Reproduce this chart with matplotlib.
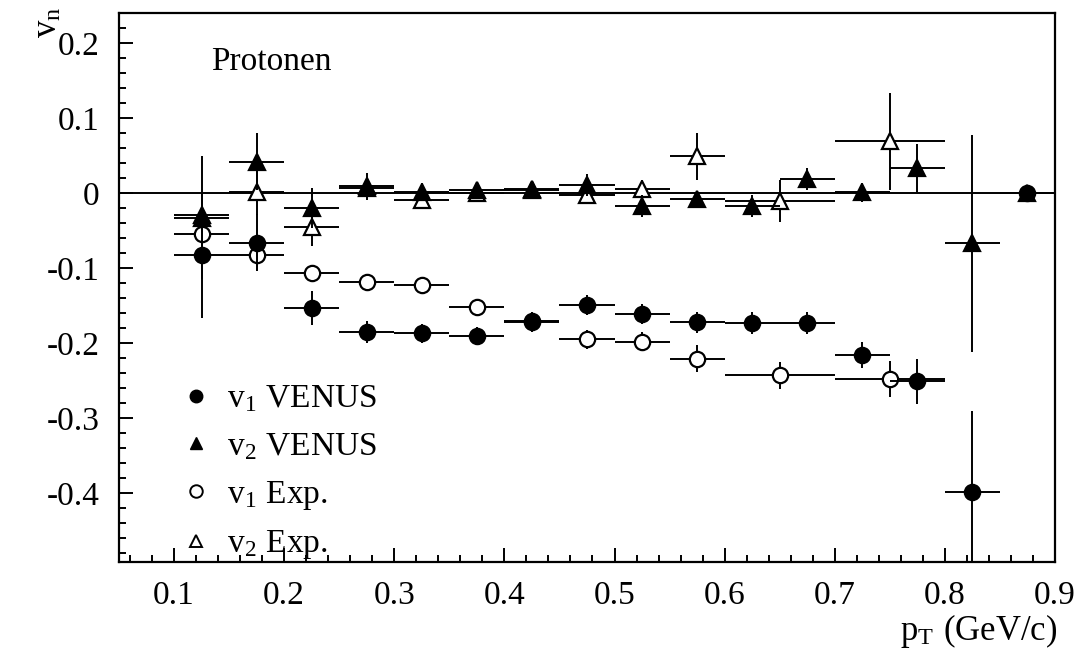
import matplotlib

matplotlib.use("Agg")

import matplotlib.pyplot as plt
from matplotlib.lines import Line2D
from matplotlib.ticker import MultipleLocator, FixedLocator, FixedFormatter

plt.rcParams['font.family'] = ['Liberation Serif', 'DejaVu Serif']
plt.rcParams['mathtext.fontset'] = 'stix'
plt.rcParams['axes.unicode_minus'] = False

# VENUS simulation bins (0.05 wide)
pt_venus = [0.125, 0.175, 0.225, 0.275, 0.325, 0.375, 0.425, 0.475,
            0.525, 0.575, 0.625, 0.675, 0.725, 0.775, 0.825, 0.875]
v1_venus = [-0.083, -0.066, -0.153, -0.185, -0.187, -0.191, -0.172, -0.149,
            -0.161, -0.172, -0.173, -0.173, -0.216, -0.251, -0.398, 0.0]
v1_venus_err = [0.083, 0.038, 0.023, 0.015, 0.013, 0.012, 0.013, 0.013,
                0.013, 0.014, 0.015, 0.015, 0.017, 0.030, 0.108, 0.004]
v2_venus = [-0.033, 0.042, -0.020, 0.009, 0.002, 0.004, 0.004, 0.011,
            -0.017, -0.008, -0.017, 0.019, 0.001, 0.033, -0.067, 0.0]
v2_venus_err = [0.082, 0.038, 0.027, 0.018, 0.012, 0.010, 0.012, 0.015,
                0.015, 0.010, 0.015, 0.015, 0.013, 0.032, 0.145, 0.004]
pt_venus_w = [0.025] * 16

# experiment
pt_exp = [0.125, 0.175, 0.225, 0.275, 0.325, 0.375, 0.425, 0.475,
          0.525, 0.575, 0.65, 0.75]
pt_exp_w = [0.025] * 10 + [0.05, 0.05]
v1_exp = [-0.054, -0.082, -0.107, -0.119, -0.123, -0.152, -0.171, -0.195,
          -0.198, -0.221, -0.243, -0.248]
v1_exp_err = [0.010, 0.020, 0.008, 0.007, 0.007, 0.008, 0.009, 0.013,
              0.013, 0.018, 0.018, 0.024]
v2_exp = [-0.029, 0.001, -0.045, 0.007, -0.009, 0.0, 0.006, -0.002,
          0.005, 0.049, -0.011, 0.069]
v2_exp_err = [0.030, 0.030, 0.026, 0.012, 0.010, 0.008, 0.010, 0.012,
              0.012, 0.031, 0.028, 0.065]

ytick_vals = [-0.4, -0.3, -0.2, -0.1, 0, 0.1, 0.2]
ytick_labels = ['-0.4', '-0.3', '-0.2', '-0.1', '0', '0.1', '0.2']

fig = plt.figure(figsize=(10.82, 6.55), dpi=100)
ax = fig.add_axes([0.110, 0.142, 0.865, 0.838])

ax.axhline(0, color='black', lw=1.4, zorder=1)

ms = 11
lw = 1.4
common = dict(ecolor='black', elinewidth=lw, capsize=0, mec='black', mew=1.6, ms=ms, ls='none')
ax.errorbar(pt_exp, v1_exp, yerr=v1_exp_err, xerr=pt_exp_w, fmt='o', mfc='white', zorder=2, **common)
ax.errorbar(pt_exp, v2_exp, yerr=v2_exp_err, xerr=pt_exp_w, fmt='^', mfc='white', zorder=2, **common)
ax.errorbar(pt_venus, v1_venus, yerr=v1_venus_err, xerr=pt_venus_w, fmt='o', mfc='black', zorder=3, **common)
ax.errorbar(pt_venus, v2_venus, yerr=v2_venus_err, xerr=pt_venus_w, fmt='^', mfc='black', zorder=3, **common)

ax.set_xlim(0.05, 0.9)
ax.set_ylim(-0.492, 0.24)
ax.xaxis.set_major_locator(MultipleLocator(0.1))
ax.xaxis.set_minor_locator(MultipleLocator(0.02))
ax.yaxis.set_major_locator(FixedLocator(ytick_vals))
ax.yaxis.set_major_formatter(FixedFormatter(ytick_labels))
ax.yaxis.set_minor_locator(MultipleLocator(0.02))
ax.xaxis.set_major_formatter(matplotlib.ticker.FormatStrFormatter('%.1f'))

ax.tick_params(which='both', direction='in', top=False, right=False, width=1.4, labelsize=24)
ax.tick_params(which='major', length=10)
ax.tick_params(which='minor', length=5)
ax.tick_params(axis='x', pad=13)
ax.tick_params(axis='y', pad=14)
for s in ax.spines.values():
    s.set_linewidth(1.6)

fig.text(0.044, 0.99, r'v$_\mathregular{n}$', rotation=90, fontsize=25, ha='center', va='top')
fig.text(0.977, 0.008, r'p$_\mathregular{T}$ (GeV/c)', fontsize=25, ha='right', va='bottom')
ax.text(0.134, 0.175, 'Protonen', fontsize=24, ha='left', va='center')

handles = [
    Line2D([], [], marker='o', ls='none', color='black', mfc='black', ms=9),
    Line2D([], [], marker='^', ls='none', color='black', mfc='black', ms=9),
    Line2D([], [], marker='o', ls='none', color='black', mfc='white', ms=9, mew=1.4),
    Line2D([], [], marker='^', ls='none', color='black', mfc='white', ms=9, mew=1.4),
]
labels = [r'v$_\mathregular{1}$ VENUS', r'v$_\mathregular{2}$ VENUS',
          r'v$_\mathregular{1}$ Exp.', r'v$_\mathregular{2}$ Exp.']
ax.legend(handles, labels, loc='upper left', bbox_to_anchor=(0.05, 0.354), frameon=False,
          fontsize=24, handlelength=0.8, handletextpad=0.55, labelspacing=0.5, borderpad=0)

fig.savefig('out.png', dpi=100)
